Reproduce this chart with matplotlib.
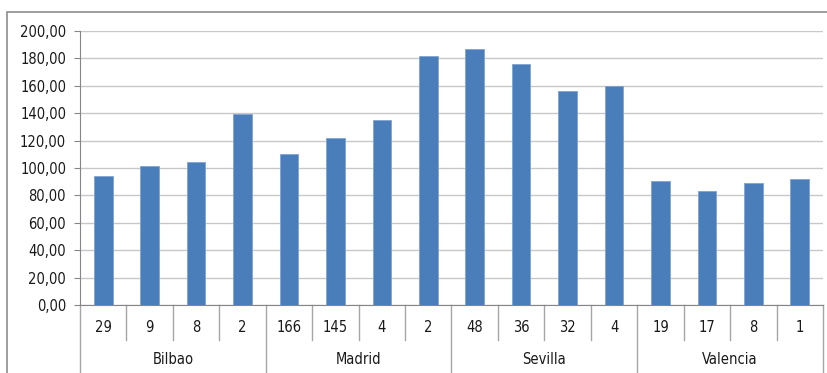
import matplotlib.pyplot as plt
from matplotlib.patches import Rectangle
import numpy as np

# cities and the counts shown under each bar
cities = ["Bilbao", "Madrid", "Sevilla", "Valencia"]
counts = ["29", "9", "8", "2",
          "166", "145", "4", "2",
          "48", "36", "32", "4",
          "19", "17", "8", "1"]
values = [94.4, 101.5, 104.4, 139.6,
          110.0, 121.9, 134.8, 181.8,
          186.6, 175.7, 156.2, 159.9,
          90.3, 83.4, 88.8, 91.8]
per_city = 4

plt.rcParams['font.family'] = ['DejaVu Sans']
plt.rcParams['font.stretch'] = 'condensed'
fs = 10.5

W, H = 828, 373
fig = plt.figure(figsize=(W / 100, H / 100), dpi=100)

# outer chart frame
fig.patches.append(Rectangle((7 / W, -0.05), 1.1, 1 - 12 / H + 0.05,
                             transform=fig.transFigure, fill=False,
                             edgecolor="#8c8c8c", linewidth=1.2))

left, right, top, bottom = 80, 823, 31, 305
ax = fig.add_axes([left / W, 1 - bottom / H, (right - left) / W, (bottom - top) / H])

x = np.arange(len(values))
ax.bar(x, values, width=0.4, color="#4A7EBB", edgecolor="#7fa3d0", linewidth=0.6, zorder=3)

ax.set_xlim(-0.5, len(values) - 0.5)
ax.set_ylim(0, 200)
ax.set_yticks(np.arange(0, 201, 20))
ax.set_yticklabels([f"{v},00" for v in range(0, 201, 20)], fontsize=fs)
ax.yaxis.grid(True, color="#c8c8c8", linewidth=1, zorder=0)
ax.tick_params(axis="y", length=4, color="#868686", pad=6, labelcolor="#1a1a1a")
ax.set_xticks([])

for s in ["top", "right"]:
    ax.spines[s].set_visible(False)
ax.spines["left"].set_color("#868686")
ax.spines["bottom"].set_color("#868686")

# two-level category axis below the bars
px = 1 / (bottom - top)
trans = ax.get_xaxis_transform()
for i, c in enumerate(counts):
    ax.text(i, -(328 - bottom) * px, c, transform=trans, ha="center", va="center",
            fontsize=fs, color="#1a1a1a")
for i in range(len(values) + 1):
    if i % per_city == 0:
        y_end = -(375 - bottom) * px
    else:
        y_end = -(340 - bottom) * px
    ax.plot([i - 0.5, i - 0.5], [0, y_end], transform=trans, color="#a6a6a6",
            linewidth=1, clip_on=False)
for j, city in enumerate(cities):
    ax.text(j * per_city + (per_city - 1) / 2, -(360 - bottom) * px, city,
            transform=trans, ha="center", va="center", fontsize=fs, color="#1a1a1a")

fig.savefig("out.png", dpi=100)
